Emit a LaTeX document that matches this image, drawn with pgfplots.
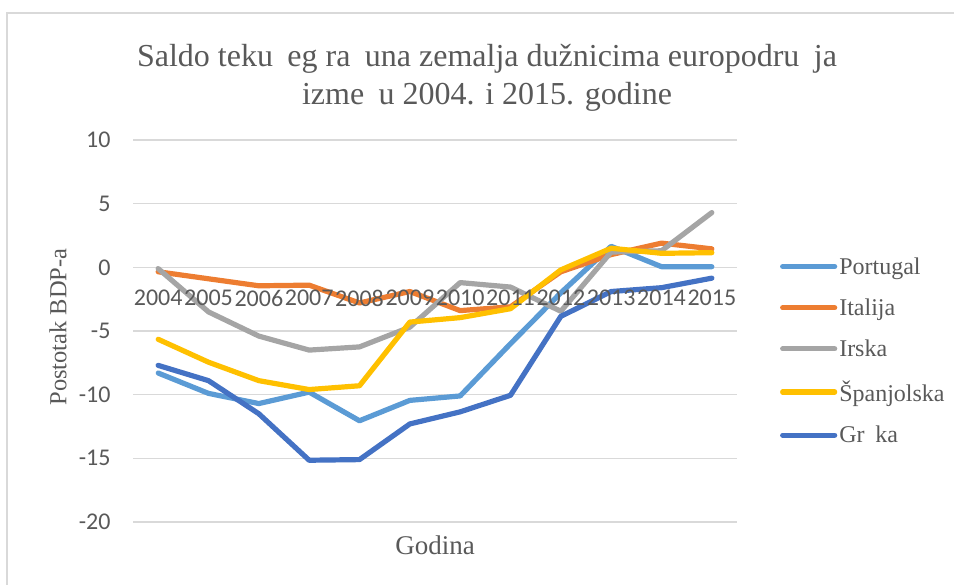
\documentclass[border=0pt]{standalone}
\usepackage{fontspec}
\setmainfont{Liberation Serif}
\newfontfamily\carlito{Carlito}
\usepackage{pgfplots}
\pgfplotsset{compat=1.18}
\definecolor{cPor}{HTML}{5B9BD5}
\definecolor{cIta}{HTML}{ED7D31}
\definecolor{cIrs}{HTML}{A5A5A5}
\definecolor{cSpa}{HTML}{FFC000}
\definecolor{cGrc}{HTML}{4472C4}
\definecolor{gridc}{HTML}{D9D9D9}
\definecolor{txt}{HTML}{595959}
\pgfplotsset{base/.style={
  at={(133pt,63pt)}, anchor=south west,
  scale only axis, width=604pt, height=382pt,
  xmin=-0.5, xmax=11.5, ymin=-20, ymax=10,
  major tick length=0,
  /pgf/number format/assume math mode=true,
  ticklabel style={font=\carlito\fontsize{24}{28}\selectfont, text=txt},
  clip=false}}
\begin{document}
\begin{tikzpicture}
\path[use as bounding box] (0pt,0pt) rectangle (954pt,585pt);
\draw[gridc, line width=1.5pt] (7pt,-20pt) -- (7pt,572pt) -- (990pt,572pt);
\node[align=center, text=txt, font=\fontsize{32}{38}\selectfont] at (487pt,507pt)
  {Saldo teku\hspace{0.45em}eg ra\hspace{0.45em}una zemalja dužnicima europodru\hspace{0.45em}ja\\ izme\hspace{0.45em}u 2004. i 2015. godine};
\node[rotate=90, text=txt, font=\fontsize{24.5}{30}\selectfont] at (58pt,258pt) {Postotak BDP-a};
\node[text=txt, font=\fontsize{27}{30}\selectfont] at (435pt,40pt) {Godina};
\begin{axis}[
  base,
  axis x line=middle, axis y line=left,
  x axis line style={draw=gridc, line width=1.5pt, -},
  y axis line style={draw=none},
  ymajorgrids, grid style={draw=gridc, line width=1.5pt},
  xtick={0,...,11}, xticklabels={},
  ytick={-20,-15,-10,-5,0,5,10},
  yticklabel style={xshift=-19pt},
  legend style={at={(1.066,0.448)}, anchor=west, draw=none, fill=none,
    font=\fontsize{24}{28}\selectfont, text=txt, row sep=19pt,
    nodes={inner sep=2pt}},
  legend cell align=left,
  legend image code/.code={\draw[#1] (0pt,0pt) -- (52pt,0pt);},
  every axis plot/.append style={line width=5.2pt, line join=round, line cap=round},
]
\addplot[cPor] coordinates {(0,-8.3) (1,-9.9) (2,-10.7) (3,-9.8) (4,-12.05) (5,-10.45) (6,-10.1) (7,-6.0) (8,-2.0) (9,1.65) (10,0.05) (11,0.05)};
\addlegendentry{Portugal}
\addplot[cIta] coordinates {(0,-0.35) (1,-0.9) (2,-1.45) (3,-1.4) (4,-2.8) (5,-1.9) (6,-3.4) (7,-3.1) (8,-0.35) (9,1.0) (10,1.9) (11,1.45)};
\addlegendentry{Italija}
\addplot[cIrs] coordinates {(0,-0.1) (1,-3.5) (2,-5.4) (3,-6.5) (4,-6.25) (5,-4.7) (6,-1.2) (7,-1.55) (8,-3.45) (9,1.2) (10,1.3) (11,4.3)};
\addlegendentry{Irska}
\addplot[cSpa] coordinates {(0,-5.65) (1,-7.45) (2,-8.9) (3,-9.6) (4,-9.3) (5,-4.3) (6,-3.95) (7,-3.25) (8,-0.2) (9,1.5) (10,1.1) (11,1.15)};
\addlegendentry{Španjolska}
\addplot[cGrc] coordinates {(0,-7.7) (1,-8.9) (2,-11.5) (3,-15.15) (4,-15.1) (5,-12.3) (6,-11.35) (7,-10.05) (8,-3.85) (9,-1.9) (10,-1.6) (11,-0.85)};
\addlegendentry{Gr\hspace{0.45em}ka}
\end{axis}
\begin{axis}[
  base,
  axis x line=middle, axis y line=none,
  x axis line style={draw=none},
  xtick={0,...,11},
  xticklabels={2004,2005,2006,2007,2008,2009,2010,2011,2012,2013,2014,2015},
  xticklabel style={yshift=-19pt},
  ytick=\empty,
]
\end{axis}
\end{tikzpicture}
\end{document}
